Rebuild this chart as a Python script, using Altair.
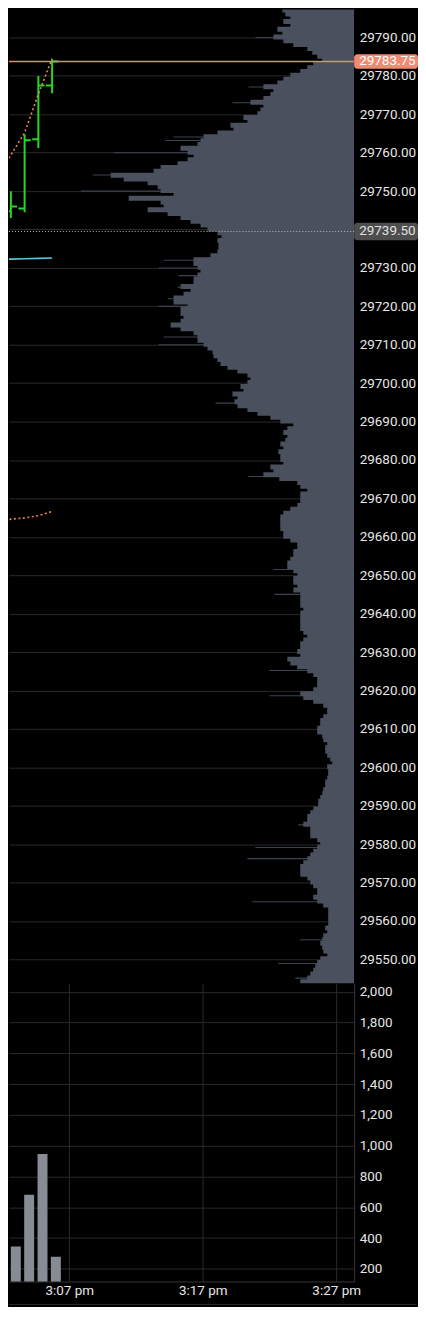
import altair as alt
import pandas as pd

# ---------------- data (minutes after 3:00 pm) ----------------
bar_minute = [3, 4, 5, 6]
bar_open = [29744.75, 29745.50, 29763.50, 29777.50]
bar_high = [29750.00, 29764.75, 29780.00, 29784.25]
bar_low = [29743.00, 29744.50, 29761.25, 29775.50]
bar_close = [29746.00, 29763.25, 29777.50, 29783.75]

vol_minute = [2, 3, 4, 5, 6]
vol_value = [416, 345, 681, 947, 278]

line_minute = [2, 3, 4, 5, 6]
vwap_upper = [29753.6, 29759.4, 29765.2, 29775.3, 29784.5]
vwap_lower = [29663.1, 29664.6, 29664.9, 29665.5, 29666.6]
cyan_line = [29732.25, 29732.30, 29732.40, 29732.50, 29732.60]

last_price = [29783.75]
marker_price = [29739.50]

# volume profile, price levels from 29797 down to 29544 (1 point each)
profile_top = 29797
profile_volume = [
    72, 69, 64, 71, 64, 77, 72, 81, 71, 61,
    47, 42, 37, 32, 41, 47, 54, 64, 71, 77,
    91, 81, 84, 91, 104, 91, 94, 97, 111, 107,
    124, 121, 137, 151, 154, 157, 174, 167, 161, 167,
    177, 194, 201, 244, 231, 207, 197, 194, 181, 226,
    194, 191, 207, 187, 174, 164, 154, 147, 137, 133,
    137, 136, 136, 137, 144, 161, 161, 157, 154, 157,
    161, 161, 174, 164, 171, 181, 181, 167, 174, 174,
    171, 174, 184, 174, 161, 157, 157, 151, 147, 142,
    141, 137, 134, 127, 117, 107, 104, 107, 114, 111,
    122, 117, 120, 117, 107, 97, 84, 74, 61, 67,
    71, 67, 69, 74, 71, 76, 74, 74, 71, 84,
    81, 91, 75, 57, 54, 47, 54, 54, 54, 57,
    64, 71, 74, 74, 74, 74, 71, 71, 64, 57,
    57, 61, 61, 64, 67, 67, 61, 57, 61, 61,
    57, 61, 54, 54, 54, 54, 51, 54, 54, 54,
    54, 54, 51, 47, 51, 54, 54, 57, 54, 67,
    64, 57, 47, 41, 37, 37, 37, 41, 54, 51,
    41, 31, 27, 27, 31, 34, 34, 37, 37, 32,
    31, 27, 29, 29, 27, 24, 22, 27, 26, 26,
    27, 29, 29, 31, 32, 34, 36, 36, 41, 44,
    47, 47, 51, 44, 44, 44, 37, 34, 37, 41,
    44, 47, 51, 54, 54, 54, 47, 44, 41, 37,
    37, 41, 37, 31, 26, 26, 26, 26, 26, 29,
    27, 31, 32, 34, 32, 31, 27, 34, 37, 39,
    41, 44, 47, 54,
]
profile_price = [profile_top - i for i in range(len(profile_volume))]

# single high-volume ticks that stick out of the profile
spike_price = [29790.0, 29777.1, 29773.0, 29764.1, 29763.2, 29760.0, 29754.2,
               29750.0, 29732.0, 29730.0, 29728.0, 29725.0, 29722.0, 29720.0,
               29712.0, 29710.0, 29694.8, 29675.7, 29651.5, 29645.0, 29625.2,
               29618.6, 29585.0, 29579.1, 29576.2, 29565.0, 29555.1, 29548.9,
               29545.1]
spike_volume = [99, 106, 122, 181, 189, 241, 262,
                274, 191, 196, 176, 177, 187, 196,
                191, 196, 139, 106, 81, 80, 85,
                85, 56, 99, 107, 102, 54, 76,
                59]

time_ticks = [7, 17, 27]
price_ticks = list(range(29550, 29800, 10))
volume_ticks = list(range(200, 2001, 200))

# ---------------- frames ----------------
ohlc = pd.DataFrame({"minute": bar_minute, "open": bar_open, "high": bar_high,
                     "low": bar_low, "close": bar_close})
vol = pd.DataFrame({"minute": vol_minute, "volume": vol_value})
lines = pd.DataFrame({"minute": line_minute, "upper": vwap_upper,
                      "lower": vwap_lower, "cyan": cyan_line})
prof = pd.DataFrame({"price": profile_price, "pv": profile_volume})
spikes = pd.DataFrame({"price": spike_price, "pv": spike_volume})
lastp = pd.DataFrame({"price": last_price, "label": ["%.2f" % v for v in last_price]})
markp = pd.DataFrame({"price": marker_price, "label": ["%.2f" % v for v in marker_price]})
one = pd.DataFrame({"k": [0]})

W = 346
H_PRICE = 976
H_VOL = 299
FONT = "Roboto"
FS = 13.5
LABEL = "#e6e6e6"
GRID = "#292929"
PROFILE = "#4a505e"

xscale = alt.Scale(domain=[2.8636, 27.9726], nice=False, zero=False)
yscale = alt.Scale(domain=[29543.77, 29797.27], nice=False, zero=False)
pscale = alt.Scale(domain=[0, W], reverse=True, nice=False)

price_axis = alt.Axis(orient="right", values=price_ticks, format=".2f", title=None,
                      labelPadding=5, grid=True, gridColor=GRID, domain=False,
                      ticks=False, labelFont=FONT, labelFontSize=FS, labelColor=LABEL)
time_axis_top = alt.Axis(orient="bottom", values=time_ticks, labels=False, ticks=False,
                         title=None, grid=True, gridColor=GRID, domain=True,
                         domainColor="#cfcfcf", domainDash=[3, 2], domainWidth=1,
                         minExtent=0, maxExtent=0)

Y = alt.Y("price:Q", scale=yscale, axis=price_axis)

# ---- volume profile group ----
spike_layer = alt.Chart(spikes).transform_calculate(
    lo="datum.price - 0.14", hi="datum.price + 0.14"
).mark_rect(color="#3c4351", clip=True).encode(
    x=alt.X("pv:Q", scale=pscale, axis=None),
    x2=alt.datum(0),
    y=alt.Y("lo:Q", scale=yscale, axis=price_axis),
    y2="hi:Q",
)
# each level spans price-0.5 .. price+0.5; the upper edge overlaps by ~1px to hide seams
body_layer = alt.Chart(prof).transform_calculate(
    lo="datum.price - 0.5", hi="datum.price + 0.8"
).mark_rect(color=PROFILE, clip=True).encode(
    x=alt.X("pv:Q", scale=pscale, axis=None),
    x2=alt.datum(0),
    y=alt.Y("lo:Q", scale=yscale, axis=price_axis),
    y2="hi:Q",
)
profile_group = alt.layer(spike_layer, body_layer)

# ---- price action group ----
X = alt.X("minute:Q", scale=xscale, axis=time_axis_top)
XN = alt.X("minute:Q", scale=xscale, axis=None)

green = "#22d822"
wick = alt.Chart(ohlc).mark_rule(color=green, strokeWidth=2, clip=True).encode(
    x=X, y=alt.Y("low:Q", scale=yscale, axis=price_axis), y2="high:Q")
open_tick = alt.Chart(ohlc).transform_calculate(tl="datum.minute - 0.45").mark_rule(
    color=green, strokeWidth=2, clip=True).encode(
    x=alt.X("tl:Q", scale=xscale, axis=None), x2="minute:Q",
    y=alt.Y("open:Q", scale=yscale, axis=price_axis))
close_tick = alt.Chart(ohlc).transform_calculate(tr="datum.minute + 0.45").mark_rule(
    color=green, strokeWidth=2, clip=True).encode(
    x=XN, x2="tr:Q", y=alt.Y("close:Q", scale=yscale, axis=price_axis))

upper = alt.Chart(lines).mark_line(color="#e8874c", strokeWidth=1.6, strokeDash=[2, 2.5],
                                   clip=True).encode(
    x=XN, y=alt.Y("upper:Q", scale=yscale, axis=price_axis))
lower = alt.Chart(lines).mark_line(color="#e8874c", strokeWidth=1.6, strokeDash=[2, 2.5],
                                   clip=True).encode(
    x=XN, y=alt.Y("lower:Q", scale=yscale, axis=price_axis))
cyan = alt.Chart(lines).mark_line(color="#58c4d8", strokeWidth=1.6, clip=True).encode(
    x=XN, y=alt.Y("cyan:Q", scale=yscale, axis=price_axis))

last_rule = alt.Chart(lastp).mark_rule(color="#ec8570", strokeWidth=1.3).encode(y=Y)
mark_rule = alt.Chart(markp).mark_rule(color="#bdbdbd", strokeWidth=1,
                                       strokeDash=[1, 2]).encode(y=Y)

last_box = alt.Chart(lastp).transform_calculate(
    lo="datum.price - 1.9", hi="datum.price + 1.9"
).mark_rect(color="#f28a72", cornerRadius=3).encode(
    x=alt.value(W), x2=alt.value(W + 64),
    y=alt.Y("lo:Q", scale=yscale, axis=price_axis), y2="hi:Q")
last_text = alt.Chart(lastp).mark_text(align="left", baseline="middle", font=FONT,
                                       fontSize=FS, color="#ffffff").encode(
    x=alt.value(W + 5), y=Y, text="label:N")
mark_box = alt.Chart(markp).transform_calculate(
    lo="datum.price - 2.3", hi="datum.price + 2.3"
).mark_rect(color="#4e4e4e", cornerRadius=3).encode(
    x=alt.value(W), x2=alt.value(W + 64),
    y=alt.Y("lo:Q", scale=yscale, axis=price_axis), y2="hi:Q")
mark_text = alt.Chart(markp).mark_text(align="left", baseline="middle", font=FONT,
                                       fontSize=FS, color="#e0e0e0").encode(
    x=alt.value(W + 5), y=Y, text="label:N")

action_group = alt.layer(wick, open_tick, close_tick, upper, lower, cyan,
                         last_rule, mark_rule, last_box, last_text, mark_box, mark_text)

price_chart = alt.layer(profile_group, action_group).resolve_scale(
    x="independent").properties(width=W, height=H_PRICE)

# ---- volume panel ----
vscale = alt.Scale(domain=[118, 2056], nice=False, zero=False)
time_axis = alt.Axis(orient="bottom", values=time_ticks, title=None, ticks=False, grid=True,
                     gridColor=GRID, domain=True, domainColor="#353535", labelPadding=2,
                     labelExpr="'3:' + (datum.value < 10 ? '0' : '') + datum.value + ' pm'",
                     labelFont=FONT, labelFontSize=FS, labelColor=LABEL)
vol_axis = alt.Axis(orient="right", values=volume_ticks, format=",d", title=None,
                    labelPadding=5, grid=True, gridColor=GRID, domain=True,
                    domainColor="#353535", ticks=False, labelFont=FONT,
                    labelFontSize=FS, labelColor=LABEL)

bars = alt.Chart(vol).mark_bar(width=10, color="#878b93", clip=True).encode(
    x=alt.X("minute:Q", scale=xscale, axis=time_axis),
    y=alt.Y("volume:Q", scale=vscale, axis=vol_axis),
)
sep = alt.Chart(one).mark_rule(color="#2c2c2c", strokeWidth=1).encode(
    x=alt.value(0), x2=alt.value(408), y=alt.value(322))

vol_chart = alt.layer(bars, sep).properties(width=W, height=H_VOL)

chart = alt.vconcat(price_chart, vol_chart, spacing=0, bounds="flush").properties(
    padding={"left": 0, "top": 0, "right": 0, "bottom": 0},
    background="#000000",
).configure_view(strokeWidth=0)

chart.save("out.html", embed_options={"renderer": "svg", "actions": False})
